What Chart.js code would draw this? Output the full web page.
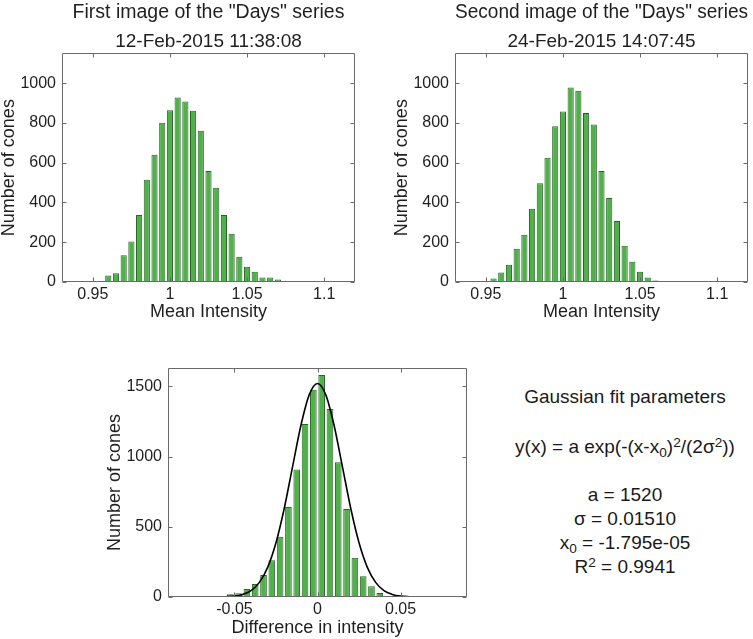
<!DOCTYPE html>
<html lang="en">
<head>
<meta charset="UTF-8">
<script src="https://cdn.jsdelivr.net/npm/chart.js@4.4.1/dist/chart.umd.min.js"></script>
<title>Days series histograms</title>
<style>
  html, body { margin: 0; padding: 0; background: #fff; overflow: hidden; width: 753px; height: 639px; }
  canvas { position: absolute; }
  #fit { position: absolute; left: 495px; top: 385px; width: 260px; text-align: center;
         font-family: "Liberation Sans", Arial, sans-serif; font-size: 19px; color: #1a1a1a; }
  #fit div { height: 24px; line-height: 24px; white-space: nowrap; }
  #fit .sup { font-size: 0.72em; position: relative; top: -0.45em; }
  #fit .sub { font-size: 0.72em; position: relative; top: 0.3em; }
</style>
</head>
<body>
<canvas id="c1" width="417" height="330" style="left:0;top:0"></canvas>
<canvas id="c2" width="417" height="330" style="left:393px;top:0"></canvas>
<canvas id="c3" width="380" height="299" style="left:106px;top:340px"></canvas>
<div id="fit">
  <div>Gaussian fit parameters</div>
  <div style="margin-top:26px">y(x) = a exp(-(x-x<span class="sub">0</span>)<span class="sup">2</span>/(2σ<span class="sup">2</span>))</div>
  <div style="margin-top:24px">a = 1520</div>
  <div>σ = 0.01510</div>
  <div>x<span class="sub">0</span> = -1.795e-05</div>
  <div>R<span class="sup">2</span> = 0.9941</div>
</div>
<script>
// first image histogram (bin centres, counts)
const bins1 = [0.95, 0.955, 0.96, 0.965, 0.97, 0.975, 0.98, 0.985, 0.99, 0.995,
               1.0, 1.005, 1.01, 1.015, 1.02, 1.025, 1.03, 1.035, 1.04, 1.045,
               1.05, 1.055, 1.06, 1.065, 1.07, 1.075, 1.08, 1.085, 1.09, 1.095];
const counts1 = [3, 5, 33, 44, 134, 204, 337, 514, 640, 801,
                 864, 928, 908, 861, 760, 558, 474, 337, 243, 127,
                 77, 52, 22, 22, 13, 5, 5, 4, 2, 1];

// second image histogram
const bins2 = [0.945, 0.95, 0.955, 0.96, 0.965, 0.97, 0.975, 0.98, 0.985, 0.99,
               0.995, 1.0, 1.005, 1.01, 1.015, 1.02, 1.025, 1.03, 1.035, 1.04,
               1.045, 1.05, 1.055, 1.06, 1.065, 1.07, 1.075, 1.08, 1.085, 1.09];
const counts2 = [2, 4, 17, 48, 87, 167, 237, 368, 497, 625,
                 783, 857, 978, 962, 850, 792, 558, 422, 307, 182,
                 102, 52, 23, 8, 3, 1, 1, 1, 1, 1];

// difference histogram
const binsD = [-0.0575, -0.0525, -0.0475, -0.0425, -0.0375, -0.0325, -0.0275, -0.0225,
               -0.0175, -0.0125, -0.0075, -0.0025, 0.0025, 0.0075, 0.0125, 0.0175,
               0.0225, 0.0275, 0.0325, 0.0375, 0.0425, 0.0475];
const countsD = [3, 19, 26, 57, 92, 156, 261, 429,
                 640, 908, 1232, 1476, 1580, 1339, 960, 626,
                 280, 147, 76, 28, 8, 2];

// gaussian fit curve
const fitX = [-0.06, -0.055, -0.05, -0.045, -0.04, -0.035, -0.03, -0.025, -0.02, -0.015, -0.01, -0.005,
              0, 0.005, 0.01, 0.015, 0.02, 0.025, 0.03, 0.035, 0.04, 0.045, 0.05, 0.055, 0.06];
const fitY = [1, 2, 6, 18, 45, 104, 211, 386, 632, 928, 1221, 1439,
              1520, 1439, 1221, 928, 632, 386, 211, 104, 45, 18, 6, 2, 1];

const intensityTicks = [0.95, 1, 1.05, 1.1];
const intensityLabels = ['0.95', '1', '1.05', '1.1'];
const diffTicks = [-0.05, 0, 0.05];
const diffLabels = ['-0.05', '0', '0.05'];
const countTicks = [0, 200, 400, 600, 800, 1000];
const diffCountTicks = [0, 500, 1000, 1500];

const FONT = '"Liberation Sans", Arial, Helvetica, sans-serif';
const TEXT = '#1f1f1f';
const BAR_FILL = 'rgb(82,176,76)';
const BAR_EDGE = 'rgb(40,104,38)';

// matlab style box with inward ticks on all four sides
const boxTicks = {
  id: 'boxTicks',
  afterDatasetsDraw(chart) {
    const { ctx, chartArea: a, scales: { x, y } } = chart;
    const L = Math.round(a.left) + 0.5, R = Math.round(a.right) - 0.5;
    const T = Math.round(a.top) + 0.5, B = Math.round(a.bottom) - 0.5;
    ctx.save();
    ctx.strokeStyle = '#6a6a6a';
    ctx.lineWidth = 1;
    ctx.beginPath();
    ctx.rect(L, T, R - L, B - T);
    x.ticks.forEach((t, i) => {
      const px = Math.round(x.getPixelForTick(i)) + 0.5;
      ctx.moveTo(px, B); ctx.lineTo(px, B - 4);
      ctx.moveTo(px, T); ctx.lineTo(px, T + 4);
    });
    y.ticks.forEach((t, i) => {
      const py = Math.round(y.getPixelForTick(i)) + 0.5;
      ctx.moveTo(L, py); ctx.lineTo(L + 4, py);
      ctx.moveTo(R, py); ctx.lineTo(R - 4, py);
    });
    ctx.stroke();
    ctx.restore();
  }
};

function histChart(id, cfg) {
  const datasets = [{
    type: 'bar',
    data: cfg.bins.map((b, i) => ({ x: b, y: cfg.counts[i] })),
    backgroundColor: BAR_FILL,
    borderColor: BAR_EDGE,
    borderWidth: 1,
    borderSkipped: 'start',
    barPercentage: 0.8,
    categoryPercentage: 1.0,
    order: 1
  }];
  if (cfg.fit) {
    datasets.push({
      type: 'line',
      data: cfg.fit.x.map((v, i) => ({ x: v, y: cfg.fit.y[i] })),
      borderColor: '#000',
      borderWidth: 1.6,
      pointRadius: 0,
      cubicInterpolationMode: 'monotone',
      fill: false,
      order: 0
    });
  }
  return new Chart(document.getElementById(id), {
    type: 'bar',
    data: { datasets },
    plugins: [boxTicks],
    options: {
      responsive: false,
      animation: false,
      layout: { padding: cfg.padding },
      plugins: {
        legend: { display: false },
        tooltip: { enabled: false },
        title: {
          display: !!cfg.title,
          text: cfg.title || '',
          fullSize: false,
          color: TEXT,
          font: { family: FONT, size: 19.5, weight: 'normal', lineHeight: 1.2 },
          padding: { top: 1, bottom: 7 }
        },
        subtitle: {
          display: !!cfg.subtitle,
          text: cfg.subtitle || '',
          fullSize: false,
          color: TEXT,
          font: { family: FONT, size: 19, weight: 'normal', lineHeight: 1.1 },
          padding: { top: 0, bottom: 1 }
        }
      },
      scales: {
        x: {
          type: 'linear',
          min: cfg.xMin, max: cfg.xMax,
          offset: false,
          grid: { display: false, drawTicks: false },
          border: { display: false },
          afterBuildTicks: s => { s.ticks = cfg.xTicks.map(v => ({ value: v })); },
          afterFit: s => { s.height = cfg.xAxisH; },
          ticks: {
            color: TEXT, padding: 3, maxRotation: 0, autoSkip: false,
            font: { family: FONT, size: 16 },
            callback: (v, i) => cfg.xLabels[i]
          },
          title: {
            display: true, text: cfg.xTitle, color: TEXT,
            font: { family: FONT, size: 18, lineHeight: 1.2 },
            padding: { top: 0, bottom: cfg.xTitlePad }
          }
        },
        y: {
          min: 0, max: cfg.yMax,
          grid: { display: false, drawTicks: false },
          border: { display: false },
          afterBuildTicks: s => { s.ticks = cfg.yTicks.map(v => ({ value: v })); },
          afterFit: s => { s.width = 62; },
          ticks: {
            color: TEXT, padding: 6,
            font: { family: FONT, size: 16 },
            callback: v => String(v)
          },
          title: {
            display: true, text: 'Number of cones', color: TEXT,
            font: { family: FONT, size: 18, lineHeight: 1 },
            padding: { top: 0, bottom: 0 }
          }
        }
      }
    }
  });
}

histChart('c1', {
  bins: bins1, counts: counts1,
  title: 'First image of the "Days" series', subtitle: '12-Feb-2015 11:38:08',
  xMin: 0.93, xMax: 1.12, xTicks: intensityTicks, xLabels: intensityLabels,
  xTitle: 'Mean Intensity', xAxisH: 48, xTitlePad: 7,
  yMax: 1150, yTicks: countTicks,
  padding: { left: 0, right: 62, top: 0, bottom: 0 }
});

histChart('c2', {
  bins: bins2, counts: counts2,
  title: 'Second image of the "Days" series', subtitle: '24-Feb-2015 14:07:45',
  xMin: 0.93, xMax: 1.12, xTicks: intensityTicks, xLabels: intensityLabels,
  xTitle: 'Mean Intensity', xAxisH: 48, xTitlePad: 7,
  yMax: 1150, yTicks: countTicks,
  padding: { left: 0, right: 62, top: 0, bottom: 0 }
});

histChart('c3', {
  bins: binsD, counts: countsD,
  fit: { x: fitX, y: fitY },
  xMin: -0.09, xMax: 0.09, xTicks: diffTicks, xLabels: diffLabels,
  xTitle: 'Difference in intensity', xAxisH: 42, xTitlePad: 0,
  yMax: 1630, yTicks: diffCountTicks,
  padding: { left: 0, right: 19, top: 28, bottom: 0 }
});
</script>
</body>
</html>
